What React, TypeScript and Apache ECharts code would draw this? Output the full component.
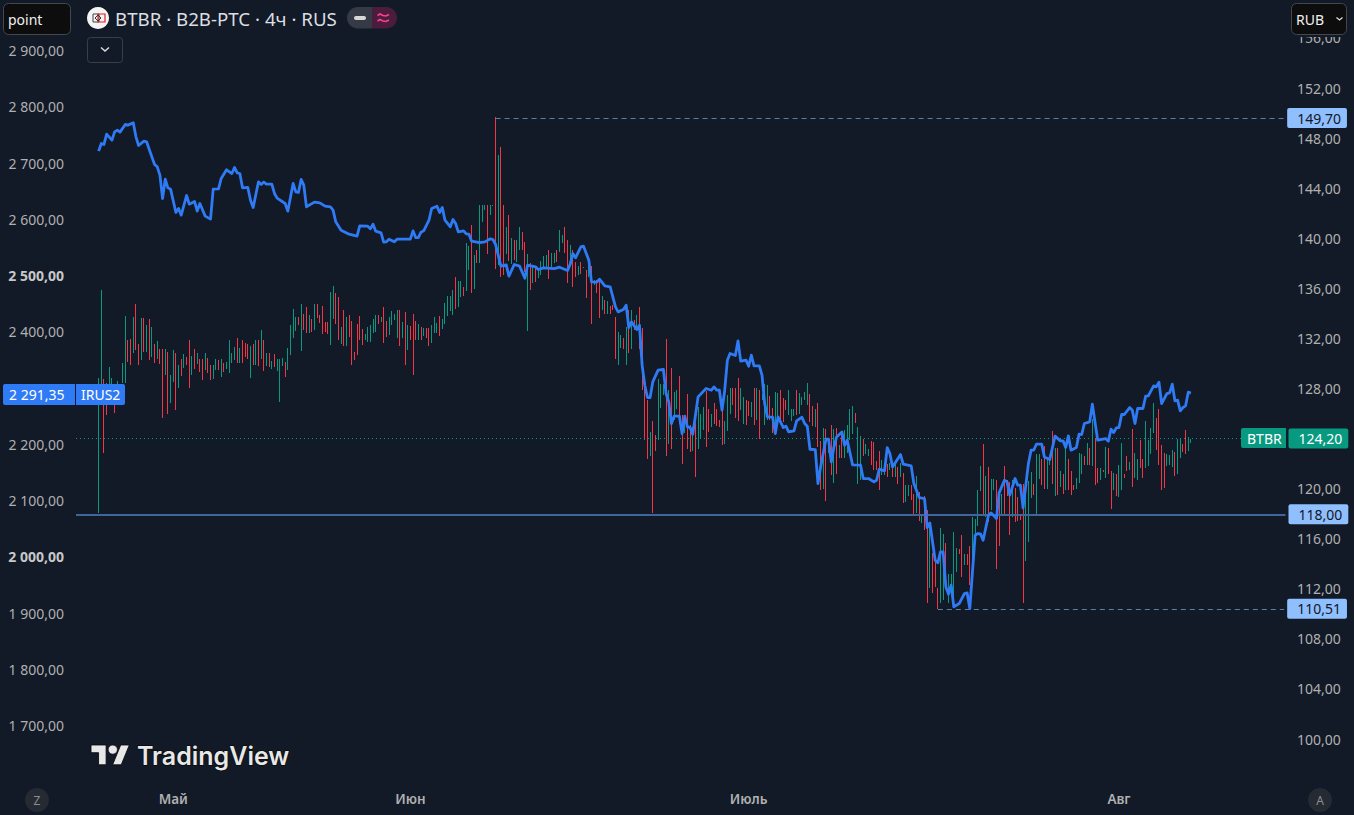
import React, { useEffect, useRef } from "react";
import * as echarts from "echarts";

const firstBarIndex = 8;
const categoryCount = 454;
const monthLabels = ["Май", "Июн", "Июль", "Авг"];
const monthIndices = [36, 125, 252, 391];
const leftTicks = [1700, 1800, 1900, 2000, 2100, 2200, 2300, 2400, 2500, 2600, 2700, 2800, 2900];
const leftBoldTicks = [2000, 2500];
const rightTicks = [100, 104, 108, 112, 116, 120, 124, 128, 132, 136, 140, 144, 148, 152, 156];

// BTBR bars: [open, close] (green when close > open)
const barsSpring: number[][] = [
[118.08,128.81],[126.81,135.86],[128.73,122.87],[128.41,125.88],[128.28,129.69],[128.14,128.84],[126.81,126.07],[128.28,128.60],[128.3,128.0],[128.46,130.01],
[128.41,133.79],[131.87,130.11],[131.95,129.87],[130.83,133.71],[134.74,131.07],[131.55,129.87],[130.27,133.63],[133.60,130.94],[130.91,133.07],[133.52,130.27],
[130.51,132.91],[131.55,130.06],[130.35,131.79],[131.15,129.95],[131.15,125.64],[129.07,131.15],[130.91,125.96],[126.84,129.07],[128.54,131.07],[130.83,126.28],
[128.03,129.87],[130.35,128.99],[129.63,130.75],[130.51,129.87],[131.87,128.03],[129.07,130.59],[131.15,129.55],[129.95,130.83],[130.35,129.31],[130.35,128.67],
[129.47,130.83],[130.43,129.23],[129.87,128.67],[128.75,129.87],[129.47,130.35],[130.27,129.47],[128.91,130.35],[130.03,129.31],[129.55,130.11],[129.23,131.87],
[130.03,130.83],[130.27,131.31],[132.03,130.03],[130.03,131.23],[131.87,130.03],[131.63,130.49],[131.55,130.35],[128.84,131.39],[131.55,129.87],[129.87,131.87],
[131.87,129.79],[130.35,132.67],[131.87,129.39],[129.79,130.83],[130.83,129.71],[129.55,130.19],[130.75,129.71],[129.39,130.35],[126.92,130.35],[129.79,130.43],
[130.11,128.91],[129.47,131.23],[130.67,133.07],[132.03,134.35],[132.59,133.71],[133.71,133.07],[130.99,134.74],[133.95,132.67],[134.50,132.43],[132.43,133.87],
[133.55,132.51],[132.67,134.74],[134.74,133.63],[133.87,133.23],[134.58,132.35],[133.31,132.51],[133.31,132.35],[131.47,135.70],[133.55,136.18],[135.62,133.15],
[135.30,131.87],[131.55,132.91],[134.27,131.39],[131.39,133.71],[133.87,132.11],[133.39,129.87],[130.91,130.27],[133.15,130.67],[133.79,131.87],
];
const barsJune: number[][] = [
[132.75,131.47],[131.87,132.35],[131.71,132.91],[131.71,133.07],[132.43,133.55],[132.51,133.87],[133.87,133.15],[133.31,133.71],[134.51,131.63],[133.39,132.11],
[132.27,133.71],[133.07,134.19],[133.47,133.95],[132.03,134.27],[134.27,131.39],[132.03,133.31],[134.11,129.87],[131.07,133.07],[132.99,131.87],[133.95,129.07],
[133.39,131.87],[131.87,133.15],[132.91,131.87],[132.19,132.83],[132.83,132.03],[132.83,131.39],[131.63,133.07],[132.43,133.71],[132.43,133.23],[133.79,132.19],
[132.75,133.55],[133.15,134.83],[133.79,135.38],[134.19,135.38],[133.87,135.86],[136.90,134.35],[134.51,136.58],[135.30,136.58],[136.10,135.38],[135.78,139.62],
[137.46,139.38],[141.05,135.62],[135.94,138.66],[139.06,138.02],[138.02,142.65],[141.29,142.65],[142.25,142.65],[142.65,138.74],[141.85,142.65],[142.57,142.65],
[149.70,137.54],[137.86,146.65],[147.28,136.90],[142.65,137.06],[138.74,140.89],[141.85,138.18],[137.94,140.02],[139.86,138.26],[138.10,139.86],[139.06,140.89],
[140.50,139.06],[139.70,137.30],[132.59,138.74],[138.02,135.86],[136.42,137.78],[137.62,136.50],[136.82,137.54],[137.06,138.18],[137.54,138.58],[137.54,138.66],
[139.06,136.74],[137.70,138.82],[138.02,138.82],[139.06,138.10],[138.90,140.66],[139.62,140.26],[140.89,138.82],[139.86,136.42],[138.26,139.46],[139.06,136.10],
[138.10,136.90],[137.06,137.78],[138.10,137.14],[137.62,137.70],[137.46,135.22],[136.90,138.34],[137.78,133.15],[136.26,136.66],[136.66,135.62],[136.66,133.63],
[134.27,135.38],[135.06,133.95],[133.95,135.00],[134.58,133.95],[134.66,134.27],[133.71,130.35],[129.87,132.51],[131.23,132.27],[132.03,131.15],[129.87,132.91],
[134.27,130.83],[131.15,134.27],[133.47,132.67],[132.67,133.87],[134.51,131.15],[132.81,127.88],
];
const barsJuly: number[][] = [
[128.28,123.89],[127.08,122.37],[122.61,124.53],[125.41,118.06],[124.29,123.01],[123.89,128.76],[126.44,128.36],[127.48,128.36],[131.96,122.61],[123.57,127.88],
[129.64,123.17],[125.49,127.72],[126.37,127.88],[129.00,125.17],[125.89,121.97],[124.42,125.89],[127.56,123.17],[125.09,122.90],[122.99,124.95],[125.22,120.93],
[123.17,126.52],[123.97,125.97],[124.69,126.52],[127.80,123.33],[126.37,124.53],[124.93,125.97],[126.84,125.17],[126.37,125.01],[125.49,124.93],[127.08,123.49],
[123.57,125.41],[124.61,127.48],[125.97,128.04],[128.04,126.68],[128.04,125.65],[128.84,125.41],[126.29,128.04],[125.17,127.32],[127.08,125.09],[127.00,125.81],
[125.73,126.92],[128.04,125.09],[125.49,128.04],[127.88,123.97],[127.08,127.56],[125.09,128.36],[125.49,128.28],[127.40,125.49],[126.44,124.42],[125.09,127.72],
[125.09,127.64],[127.88,125.17],[127.24,125.33],[127.08,126.29],[125.89,127.88],[125.41,126.37],[125.81,126.37],[127.88,125.89],[125.97,127.64],[126.68,127.35],
[127.08,127.72],[126.68,128.44],[127.56,125.35],[126.60,125.01],[124.93,126.37],[126.84,123.36],[123.81,119.89],[119.97,124.85],[124.77,119.02],[122.82,124.02],
[125.09,121.09],[120.45,124.77],[124.85,121.17],[122.42,123.49],[124.42,122.45],[122.42,124.69],[122.82,125.09],[123.89,126.37],[124.37,126.60],[126.05,125.25],
[120.40,124.93],[120.69,124.21],[123.97,122.61],[122.77,123.57],[122.61,123.17],[123.81,121.89],[123.73,121.49],[122.21,121.49],[123.01,119.89],[121.09,122.29],
[121.09,121.49],[121.97,120.93],[121.49,122.03],[121.79,120.93],[120.93,122.29],[121.73,120.37],[120.96,122.03],[121.25,118.85],[118.94,120.29],[119.42,120.29],
[120.29,119.10],[119.57,117.90],[118.06,121.01],[119.73,117.42],
];
const barsAugust: number[][] = [
[117.26,117.98],[119.42,116.70],[118.30,110.87],[112.07,116.97],[114.86,111.67],[114.30,112.15],[112.07,110.39],[110.87,116.86],[111.11,116.38],[115.66,113.35],
[110.87,113.19],[111.75,113.19],[111.27,116.54],[113.35,115.26],[115.18,114.78],[116.30,112.95],[113.90,114.78],[114.78,113.90],[115.42,112.31],[112.44,117.74],
[115.90,117.58],[117.02,119.90],[119.82,121.81],[123.57,117.98],[117.76,121.01],[121.73,117.34],[118.30,120.77],[119.90,120.77],[120.69,113.59],[119.66,115.42],
[117.90,119.58],[121.81,117.98],[120.69,119.42],[120.53,116.30],[117.76,120.69],[120.05,117.34],[119.36,117.42],[117.90,117.50],[120.37,110.87],[114.22,119.90],
[115.74,120.61],[119.26,121.33],[120.37,119.50],[117.90,122.77],[120.77,122.77],[122.37,120.29],[123.41,119.98],[119.98,122.37],[121.89,122.69],[124.61,120.37],
[119.42,123.25],[123.25,119.50],[120.13,121.41],[121.17,119.58],[119.90,123.25],[122.37,119.90],[121.41,119.50],[120.29,119.90],[119.98,120.86],[120.45,122.85],
[121.17,122.77],[122.61,121.89],[121.89,123.65],[123.25,121.89],[121.81,125.57],[124.05,120.29],[121.65,120.45],[120.69,121.65],[121.49,121.33],[120.86,123.33],
[123.25,121.17],[121.41,118.38],[119.90,121.25],[121.17,119.42],[119.34,121.89],[119.90,123.65],[121.17,120.86],[122.61,121.41],[121.49,122.13],[124.77,120.13],
[120.86,122.85],[120.69,122.37],[123.89,121.65],[122.37,120.86],[121.65,125.41],[121.81,123.89],[122.77,124.85],[124.45,126.84],[125.65,123.09],[126.37,121.89],
[123.49,119.90],[122.85,120.05],[121.81,122.77],[121.89,122.69],[121.73,123.09],[122.93,121.01],[121.17,123.97],[122.45,123.97],[123.57,122.93],[124.69,122.77],
[123.01,124.13],[123.65,123.97],
];

// IRUS2 line, left scale: [bar index, value]
const irusSpring: number[][] = [
[8,2721.4],[9,2734.9],[10,2733.2],[11,2751.6],[13,2740.9],[14,2755.7],[15,2758.7],[16,2755.1],[18,2768.8],[19,2767.6],[21,2771.7],[22,2746.8],[23,2731.4],[25,2739.1],[26,2737.9],[27,2724.3],[29,2697.7],[30,2693.5],[31,2678.7],[32,2637.2],[33,2671.6],[34,2656.2],[35,2653.8],[37,2612.3],[38,2619.4],[39,2607.6],[41,2642.5],[42,2627.1],[44,2631.9],[45,2614.7],[46,2628.3],[48,2605.8],[50,2600.5],[51,2653.8],[53,2654.4],[54,2672.8],[56,2688.2],[58,2681.6],[59,2692.3],[60,2682.8],[61,2681.6],[62,2656.2],[64,2656.8],[65,2634.2],[66,2621.2],[68,2666.8],[69,2662.1],[70,2666.2],[71,2662.7],[73,2662.7],[74,2646.1],[75,2637.8],[78,2628.3],[79,2614.7],[81,2663.9],[82,2649.0],[83,2647.9],[84,2671.0],[85,2660.9],[86,2622.4],[89,2630.7],[91,2629.5],[93,2623.6],[95,2622.4],[96,2616.5],[97,2595.7],[99,2580.9],
];
const irusJune: number[][] = [
[102,2573.8],[105,2570.2],[106,2588.6],[109,2588.0],[110,2583.2],[111,2591.5],[112,2579.1],[114,2576.1],[115,2559.5],[116,2560.1],[117,2564.9],[119,2560.1],[120,2564.9],[125,2564.9],[126,2579.7],[127,2567.8],[128,2567.8],[129,2577.3],[130,2579.7],[132,2598.6],[133,2619.4],[135,2623.5],[136,2612.3],[137,2621.2],[138,2598.6],[140,2586.8],[141,2599.8],[142,2592.7],[143,2577.9],[145,2579.7],[146,2574.4],[147,2573.8],[148,2561.3],[151,2558.9],[153,2560.1],[155,2565.5],[156,2564.3],[157,2555.4],[159,2516.9],[161,2519.2],[162,2499.1],[164,2519.8],[166,2516.9],[168,2495.5],[169,2518.6],[172,2515.7],[173,2511.0],[175,2513.9],[179,2512.7],[181,2515.1],[184,2509.2],[185,2520.4],[186,2539.4],[187,2531.7],[189,2551.2],[190,2552.4],[192,2527.5],[193,2489.0],[195,2488.4],[196,2493.8],[198,2481.9],[200,2480.1],[202,2444.6],[203,2435.7],[205,2439.8],[206,2447.5],[207,2407.8],[208,2417.9],[210,2404.3],[211,2412.0],
];
const irusJuly: number[][] = [
[212,2340.9],[213,2305.3],[214,2283.4],[215,2283.4],[216,2311.2],[218,2332.0],[220,2333.2],[221,2290.5],[222,2275.7],[223,2237.2],[224,2250.2],[226,2250.2],[227,2219.4],[228,2250.2],[229,2231.2],[230,2230.0],[231,2218.2],[233,2284.6],[236,2299.4],[238,2296.4],[239,2302.3],[240,2296.4],[241,2296.4],[242,2260.9],[243,2296.4],[244,2349.8],[245,2361.6],[247,2358.1],[248,2384.1],[249,2348.0],[251,2349.8],[252,2339.1],[253,2358.6],[254,2339.7],[256,2339.7],[257,2323.1],[258,2272.7],[259,2249.0],[261,2248.4],[262,2219.4],[263,2249.0],[265,2230.0],[266,2232.4],[267,2222.3],[269,2224.1],[270,2241.9],[272,2248.4],[273,2237.2],[274,2232.4],[275,2191.5],[277,2190.9],[278,2130.5],[279,2160.1],[281,2209.3],[282,2209.3],[283,2169.0],[284,2195.7],[285,2213.4],[287,2222.3],[288,2198.6],[289,2207.5],[291,2163.7],[294,2163.1],[295,2139.4],[297,2139.4],[299,2133.4],[300,2136.4],[301,2156.0],[303,2153.0],[304,2194.5],[305,2183.8],[306,2160.1],[309,2182.0],[310,2164.9],[313,2161.9],[314,2130.5],[316,2105.6],
];
const irusAugust: number[][] = [
[318,2103.8],[319,2052.3],[320,2060.6],[322,1994.2],[323,1989.5],[324,2009.0],[325,2009.0],[326,1946.8],[327,1933.8],[328,1949.8],[329,1911.3],[331,1917.2],[333,1935.0],[334,1936.1],[335,1908.3],[337,2038.7],[338,2041.6],[339,2041.0],[340,2029.8],[342,2074.2],[343,2078.4],[345,2068.3],[346,2113.9],[348,2136.4],[349,2133.5],[350,2109.8],[352,2139.4],[353,2127.6],[354,2127.6],[355,2087.3],[357,2166.1],[358,2189.8],[359,2189.8],[360,2200.4],[362,2200.4],[363,2177.9],[365,2173.2],[367,2214.7],[369,2206.4],[370,2206.4],[371,2194.5],[372,2215.3],[373,2189.8],[375,2194.5],[376,2218.2],[377,2217.6],[378,2237.2],[380,2240.1],[381,2271.6],[383,2207.6],[386,2210.5],[387,2205.8],[388,2227.1],[389,2221.2],[390,2229.5],[391,2230.1],[392,2253.2],[393,2253.2],[395,2265.6],[396,2260.9],[397,2237.2],[398,2263.9],[400,2263.9],[401,2285.8],[402,2286.4],[404,2304.1],[405,2302.4],[406,2310.7],[407,2272.7],[409,2290.5],[410,2291.7],[411,2307.1],[412,2277.5],[413,2278.7],[414,2259.7],[415,2265.6],[416,2268.6],[417,2292.9],[418,2291.35],
];

const FONT = '"Noto Sans", sans-serif';
const BG = "#121a27";
const GREEN = "#089981";
const RED = "#f23645";
const BLUE = "#2f7af5";
const LIGHT = "#90bfff";

const fmtLeft = (v: number) => {
  const s = v.toFixed(2).replace(".", ",");
  return s.length > 6 ? s.slice(0, s.length - 6) + " " + s.slice(s.length - 6) : s;
};
const fmtRight = (v: number) => v.toFixed(2).replace(".", ",");

echarts.graphic.registerShape(
  "tvLogo",
  echarts.graphic.extendPath("M14 22H7V11H0V4h14v18ZM28 22h-8l7.5-18h8L28 22Z", {} as any)
);

function buildOption() {
  const categories = Array.from({ length: categoryCount }, (_, i) => String(i));
  const allBars = [...barsSpring, ...barsJune, ...barsJuly, ...barsAugust];
  const barData = allBars.map(([o, c], k) => [firstBarIndex + k, o, c]);
  const lineData = [...irusSpring, ...irusJune, ...irusJuly, ...irusAugust];

  const priceLabel = (text: string, bg: string, color: string) => ({
    show: true,
    position: "end",
    distance: 3,
    formatter: text,
    backgroundColor: bg,
    color,
    fontFamily: FONT,
    fontSize: 14,
    padding: [2, 6, 2, 10],
    borderRadius: 2,
    lineHeight: 16,
  });
  const dash = { color: "#5b7ea8", width: 1, type: [5, 4] as any };

  const ui: any[] = [
    { type: "rect", shape: { x: 3, y: 384, width: 72, height: 21, r: [2, 0, 0, 2] }, style: { fill: BLUE } },
    { type: "rect", shape: { x: 76, y: 384, width: 49, height: 21, r: [0, 2, 2, 0] }, style: { fill: BLUE } },
    { type: "text", x: 9, y: 394.5, style: { text: "2 291,35", fill: "#fff", font: `14px ${FONT}`, textVerticalAlign: "middle" } },
    { type: "text", x: 81, y: 394.5, style: { text: "IRUS2", fill: "#fff", font: `14px ${FONT}`, textVerticalAlign: "middle" } },
    { type: "rect", shape: { x: 1241, y: 428, width: 45, height: 20, r: [2, 0, 0, 2] }, style: { fill: GREEN } },
    { type: "text", x: 1247, y: 438, style: { text: "BTBR", fill: "#fff", font: `14px ${FONT}`, textVerticalAlign: "middle" } },
    { type: "rect", shape: { x: 3.5, y: 3.5, width: 67, height: 31, r: 5 }, style: { fill: "#0d0d0d", stroke: "#45474d", lineWidth: 1 } },
    { type: "text", x: 8, y: 19.5, style: { text: "point", fill: "#f0f0f0", font: `14px ${FONT}`, textVerticalAlign: "middle" } },
    { type: "rect", shape: { x: 1290, y: 30, width: 58, height: 7 }, style: { fill: BG } },
    { type: "rect", shape: { x: 1291.5, y: 3.5, width: 55, height: 31, r: 5 }, style: { fill: "#0d0d0d", stroke: "#45474d", lineWidth: 1 } },
    { type: "text", x: 1296, y: 19.5, style: { text: "RUB", fill: "#f0f0f0", font: `14px ${FONT}`, textVerticalAlign: "middle" } },
    { type: "polyline", shape: { points: [[1336.5, 17.5], [1339.5, 20], [1342.5, 17.5]] }, style: { stroke: "#dddddd", lineWidth: 1.3, fill: "none" } },
    { type: "circle", shape: { cx: 98, cy: 18, r: 11 }, style: { fill: "#f4f4f4" } },
    { type: "rect", shape: { x: 93, y: 14, width: 6, height: 8 }, style: { fill: "none", stroke: "#444", lineWidth: 1 } },
    { type: "rect", shape: { x: 98, y: 14, width: 7, height: 8 }, style: { fill: "none", stroke: "#e31b23", lineWidth: 1.2 } },
    { type: "polygon", shape: { points: [[98, 15], [101, 18], [98, 21], [95, 18]] }, style: { fill: "none", stroke: "#333", lineWidth: 1 } },
    { type: "text", x: 115, y: 18.5, style: { text: "BTBR · B2B-PTC · 4ч · RUS", fill: "#dcdee2", font: `18.7px ${FONT}`, textVerticalAlign: "middle" } },
    { type: "rect", shape: { x: 347, y: 7, width: 25, height: 21.5, r: [11, 0, 0, 11] }, style: { fill: "#363a45" } },
    { type: "rect", shape: { x: 372, y: 7, width: 25, height: 21.5, r: [0, 11, 11, 0] }, style: { fill: "#4a1d3e" } },
    { type: "rect", shape: { x: 354, y: 16, width: 12, height: 4, r: 2 }, style: { fill: "#d8d8d8" } },
    { type: "polyline", shape: { points: [[377.5, 15.5], [380, 14], [383, 15.5], [386, 16], [389, 14.5]] }, style: { stroke: "#ff3f86", lineWidth: 1.6, fill: "none" } },
    { type: "polyline", shape: { points: [[377.5, 21], [380, 19.5], [383, 21], [386, 21.5], [389, 20]] }, style: { stroke: "#ff3f86", lineWidth: 1.6, fill: "none" } },
    { type: "rect", shape: { x: 87.5, y: 37.5, width: 35, height: 25, r: 3 }, style: { fill: BG, stroke: "#3a3e48", lineWidth: 1 } },
    { type: "polyline", shape: { points: [[101, 47.5], [105, 51], [109, 47.5]] }, style: { stroke: "#dddddd", lineWidth: 1.4, fill: "none" } },
    { type: "tvLogo", x: 91, y: 740.6, scaleX: 1.08, scaleY: 1.1, style: { fill: "#e8e8e8", stroke: "#0a0a0a", lineWidth: 0.8 } },
    { type: "circle", shape: { cx: 112.8, cy: 749.6, r: 4.6 }, style: { fill: "#e8e8e8", stroke: "#0a0a0a", lineWidth: 0.8 } },
    { type: "text", x: 137, y: 755.5, style: { text: "TradingView", fill: "#e8e8e8", font: `600 25px Inter, ${FONT}`, textVerticalAlign: "middle", stroke: "#0a0a0a", lineWidth: 1.5 } },
    { type: "circle", shape: { cx: 37, cy: 800, r: 12 }, style: { fill: "#252a33" } },
    { type: "text", x: 37, y: 800, style: { text: "Z", fill: "#8b8e95", font: `12px ${FONT}`, textAlign: "center", textVerticalAlign: "middle" } },
    { type: "circle", shape: { cx: 1320, cy: 800, r: 12 }, style: { fill: "#252a33" } },
    { type: "text", x: 1320, y: 800, style: { text: "A", fill: "#8b8e95", font: `12px ${FONT}`, textAlign: "center", textVerticalAlign: "middle" } },
  ];

  return {
    animation: false,
    backgroundColor: BG,
    textStyle: { fontFamily: FONT },
    grid: { left: 76, top: 0, width: 1209.5, height: 782, containLabel: false },
    xAxis: {
      type: "category",
      data: categories,
      boundaryGap: true,
      axisLine: { show: false },
      axisTick: { show: false },
      splitLine: { show: false },
      axisLabel: {
        color: "#b0b0b0",
        fontFamily: FONT,
        fontSize: 13.5,
        fontWeight: 600,
        margin: 10,
        interval: (i: number) => monthIndices.includes(i),
        formatter: (_: string, i: number) => {
          const k = monthIndices.indexOf(i);
          return k >= 0 ? monthLabels[k] : "";
        },
      },
    },
    yAxis: [
      {
        type: "value",
        position: "left",
        min: 1600,
        max: 2990,
        axisLine: { show: false },
        axisTick: { show: false },
        splitLine: { show: false },
        axisLabel: {
          customValues: leftTicks,
          margin: 12,
          color: "#b0b0b0",
          fontFamily: FONT,
          fontSize: 14,
          formatter: (v: number) =>
            leftBoldTicks.includes(v) ? `{b|${fmtLeft(v)}}` : fmtLeft(v),
          rich: { b: { color: "#c8c8c8", fontFamily: FONT, fontSize: 14, fontWeight: 700 } },
        },
      },
      {
        type: "value",
        position: "right",
        min: 96.57,
        max: 159.03,
        axisLine: { show: false },
        axisTick: { show: false },
        splitLine: { show: false },
        axisLabel: {
          customValues: rightTicks,
          margin: 11.5,
          color: "#b0b0b0",
          fontFamily: FONT,
          fontSize: 14,
          formatter: (v: number) => fmtRight(v),
        },
      },
    ],
    series: [
      {
        name: "BTBR",
        type: "custom",
        yAxisIndex: 1,
        z: 2,
        encode: { x: 0, y: [1, 2] },
        data: barData,
        renderItem: (_: any, api: any) => {
          const idx = api.value(0);
          const o = api.value(1);
          const c = api.value(2);
          const top = api.coord([idx, Math.max(o, c)]);
          const bottom = api.coord([idx, Math.min(o, c)]);
          return {
            type: "rect",
            shape: {
              x: Math.floor(top[0]),
              y: Math.round(top[1]),
              width: 1,
              height: Math.max(1, Math.round(bottom[1]) - Math.round(top[1])),
            },
            style: { fill: c >= o ? GREEN : RED },
          };
        },
        markLine: {
          silent: true,
          symbol: "none",
          animation: false,
          z: 3,
          data: [
            {
              yAxis: 117.95,
              lineStyle: { color: "#3f659b", width: 2, type: "solid" },
              label: priceLabel("118,00", LIGHT, "#131722"),
            },
            {
              yAxis: 124.0,
              lineStyle: { color: GREEN, width: 1, type: [1, 3] as any },
              label: priceLabel("124,20", GREEN, "#ffffff"),
            },
            [
              { coord: [157, 149.6], lineStyle: dash },
              { coord: [categoryCount - 1, 149.6], label: priceLabel("149,70", LIGHT, "#131722") },
            ],
            [
              { coord: [323, 110.4], lineStyle: dash },
              { coord: [categoryCount - 1, 110.4], label: priceLabel("110,51", LIGHT, "#131722") },
            ],
          ],
        },
      },
      {
        name: "IRUS2",
        type: "line",
        yAxisIndex: 0,
        z: 5,
        symbol: "none",
        lineStyle: { color: BLUE, width: 2.8, join: "round" },
        data: lineData,
      },
    ],
    graphic: ui.map((el) => ({ ...el, z: 100, silent: true })),
  };
}

export default function App() {
  const ref = useRef<HTMLDivElement>(null);
  useEffect(() => {
    document.body.style.margin = "0";
    document.body.style.background = BG;
    const chart = echarts.init(ref.current!, undefined, { renderer: "svg", width: 1354, height: 815 });
    chart.setOption(buildOption() as any);
    return () => chart.dispose();
  }, []);
  return <div ref={ref} style={{ position: "absolute", left: 0, top: 0, width: 1354, height: 815 }} />;
}
